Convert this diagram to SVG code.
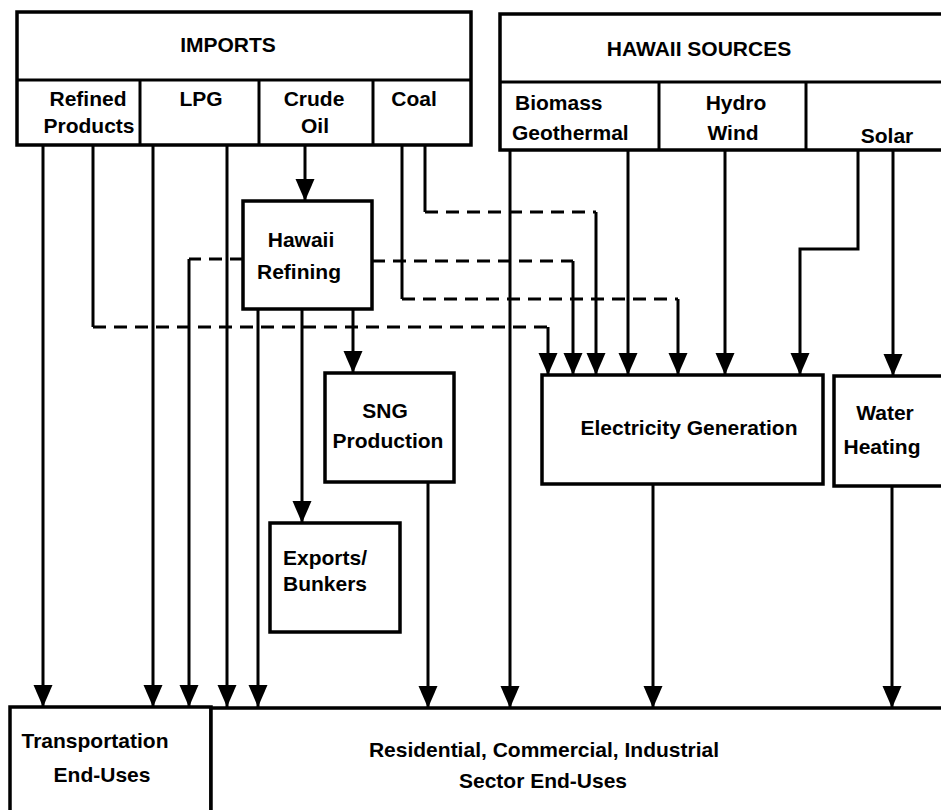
<svg xmlns="http://www.w3.org/2000/svg" width="941" height="810" viewBox="0 0 941 810">
<style>
.box{fill:#fff;stroke:#000;stroke-width:3.5}
.t{font-family:"Liberation Sans",Arial,sans-serif;font-weight:bold;font-size:21px;fill:#000;text-anchor:middle}
.s{fill:none;stroke:#000;stroke-width:3}
.d{fill:none;stroke:#000;stroke-width:3;stroke-dasharray:13 8}
</style>
<defs>
<marker id="ah" viewBox="0 0 22 20" refX="22" refY="10" markerWidth="22" markerHeight="20" orient="auto" markerUnits="userSpaceOnUse">
<path d="M0,0.5 L22,10 L0,19.5 z" fill="#000"/>
</marker>
</defs>
<rect width="941" height="810" fill="#fff"/>

<g id="imports">
<rect class="box" x="17" y="12" width="454" height="133"/>
<line class="s" x1="17" y1="80" x2="471" y2="80" stroke-width="4"/>
<line class="s" x1="140" y1="80" x2="140" y2="145"/>
<line class="s" x1="259" y1="80" x2="259" y2="145"/>
<line class="s" x1="373" y1="80" x2="373" y2="145"/>
<text class="t" x="228" y="52">IMPORTS</text>
<text class="t" x="88" y="106">Refined</text>
<text class="t" x="89" y="133">Products</text>
<text class="t" x="201" y="106">LPG</text>
<text class="t" x="314" y="106">Crude</text>
<text class="t" x="315" y="133">Oil</text>
<text class="t" x="414" y="106">Coal</text>
</g>

<g id="hawaii-sources">
<rect class="box" x="500" y="14" width="460" height="136"/>
<line class="s" x1="500" y1="82" x2="941" y2="82" stroke-width="4"/>
<line class="s" x1="659" y1="82" x2="659" y2="150"/>
<line class="s" x1="806" y1="82" x2="806" y2="150"/>
<text class="t" x="699" y="56">HAWAII SOURCES</text>
<text class="t" x="515" y="110" style="text-anchor:start">Biomass</text>
<text class="t" x="512" y="140" style="text-anchor:start">Geothermal</text>
<text class="t" x="736" y="110">Hydro</text>
<text class="t" x="733" y="140">Wind</text>
<text class="t" x="887" y="143">Solar</text>
</g>

<g id="hawaii-refining">
<rect class="box" x="243" y="201" width="129" height="108"/>
<text class="t" x="301" y="247">Hawaii</text>
<text class="t" x="299" y="279">Refining</text>
</g>

<g id="sng-production">
<rect class="box" x="325" y="373" width="129" height="109"/>
<text class="t" x="385" y="418">SNG</text>
<text class="t" x="388" y="448">Production</text>
</g>

<g id="exports-bunkers">
<rect class="box" x="270" y="523" width="130" height="109"/>
<text class="t" x="283" y="565" style="text-anchor:start">Exports/</text>
<text class="t" x="283" y="591" style="text-anchor:start">Bunkers</text>
</g>

<g id="electricity-generation">
<rect class="box" x="542" y="375" width="281" height="109"/>
<text class="t" x="689" y="435">Electricity Generation</text>
</g>

<g id="water-heating">
<rect class="box" x="834" y="376" width="130" height="110"/>
<text class="t" x="885" y="420">Water</text>
<text class="t" x="882" y="454">Heating</text>
</g>

<g id="transportation">
<rect class="box" x="10" y="707" width="201" height="110"/>
<text class="t" x="95" y="748">Transportation</text>
<text class="t" x="102" y="782">End-Uses</text>
</g>

<g id="residential">
<rect class="box" x="211" y="708" width="750" height="110"/>
<text class="t" x="544" y="757">Residential, Commercial, Industrial</text>
<text class="t" x="543" y="788">Sector End-Uses</text>
</g>

<g id="connectors">
<line class="s" x1="43" y1="145" x2="43" y2="707" marker-end="url(#ah)"/>
<line class="s" x1="153" y1="145" x2="153" y2="707" marker-end="url(#ah)"/>
<line class="s" x1="227" y1="145" x2="227" y2="707" marker-end="url(#ah)"/>
<line class="s" x1="305" y1="145" x2="305" y2="201" marker-end="url(#ah)"/>
<path class="d" d="M243,259 H189"/>
<line class="s" x1="189" y1="259" x2="189" y2="707" marker-end="url(#ah)"/>
<line class="s" x1="258" y1="309" x2="258" y2="707" marker-end="url(#ah)"/>
<line class="s" x1="302" y1="309" x2="302" y2="523" marker-end="url(#ah)"/>
<line class="s" x1="353" y1="309" x2="353" y2="373" marker-end="url(#ah)"/>
<path class="d" d="M372,261 H573"/>
<line class="s" x1="573" y1="261" x2="573" y2="375" marker-end="url(#ah)"/>
<path class="s" d="M93,145 V327"/>
<path class="d" d="M93,327 H548"/>
<line class="s" x1="548" y1="327" x2="548" y2="375" marker-end="url(#ah)"/>
<path class="s" d="M402,145 V299"/>
<path class="d" d="M402,299 H678"/>
<line class="s" x1="678" y1="299" x2="678" y2="375" marker-end="url(#ah)"/>
<path class="s" d="M425,145 V212"/>
<path class="d" d="M425,212 H596"/>
<line class="s" x1="596" y1="212" x2="596" y2="375" marker-end="url(#ah)"/>
<line class="s" x1="510" y1="150" x2="510" y2="708" marker-end="url(#ah)"/>
<line class="s" x1="628" y1="150" x2="628" y2="375" marker-end="url(#ah)"/>
<line class="s" x1="725" y1="150" x2="725" y2="375" marker-end="url(#ah)"/>
<path class="s" d="M858,150 V249 H800 V375" marker-end="url(#ah)"/>
<line class="s" x1="893" y1="150" x2="893" y2="376" marker-end="url(#ah)"/>
<line class="s" x1="428" y1="482" x2="428" y2="708" marker-end="url(#ah)"/>
<line class="s" x1="653" y1="484" x2="653" y2="708" marker-end="url(#ah)"/>
<line class="s" x1="892" y1="486" x2="892" y2="708" marker-end="url(#ah)"/>
</g>
</svg>
